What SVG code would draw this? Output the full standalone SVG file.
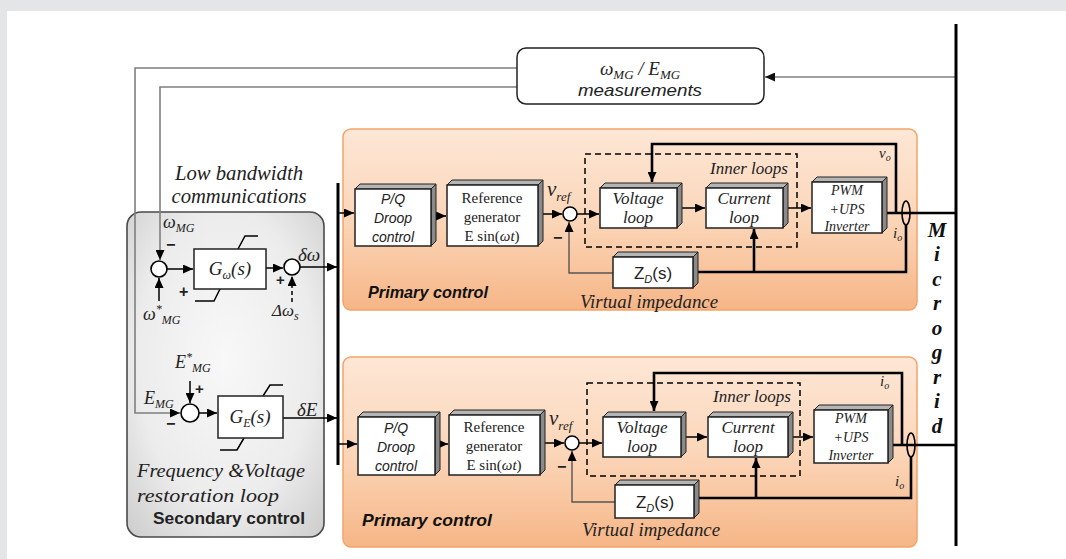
<svg xmlns="http://www.w3.org/2000/svg" width="1066" height="559" viewBox="0 0 1066 559">
<defs>
<style>
.ln{fill:none;stroke:#000;stroke-width:1.5}
.tk{fill:none;stroke:#000;stroke-width:2.6}
.gl{fill:none;stroke:#7f7f7f;stroke-width:1.6}
.sum{fill:#fff;stroke:#000;stroke-width:1.6}
.fr{fill:#fff;stroke:#222;stroke-width:1.5}
.tp{fill:#b5b5b5;stroke:#222;stroke-width:1}
.rt{fill:#8a8a8a;stroke:#222;stroke-width:1}
.ser{font-family:"Liberation Serif","Times New Roman",serif;fill:#222}
.it{font-family:"Liberation Serif","Times New Roman",serif;font-style:italic;fill:#222}
.sans{font-family:"Liberation Sans","Open Sans",sans-serif;fill:#222}
.pc{font-family:"Liberation Sans","Open Sans",sans-serif;font-weight:bold;font-style:italic;font-size:17px;fill:#111}
.mg{font-family:"Liberation Serif",serif;font-weight:bold;font-style:italic;font-size:21px;fill:#111;text-anchor:middle}
</style>
<marker id="ah" markerUnits="userSpaceOnUse" markerWidth="10" markerHeight="9" refX="10" refY="4.5" orient="auto">
<path d="M0,0 L10,4.5 L0,9 z" fill="#000"/>
</marker>
<marker id="ahg" markerUnits="userSpaceOnUse" markerWidth="10" markerHeight="9" refX="10" refY="4.5" orient="auto">
<path d="M0,0 L10,4.5 L0,9 z" fill="#111"/>
</marker>
<radialGradient id="secg" cx="0.5" cy="0.45" r="0.75">
<stop offset="0" stop-color="#f8f8f8"/>
<stop offset="0.6" stop-color="#ececec"/>
<stop offset="1" stop-color="#cbcbcb"/>
</radialGradient>
<linearGradient id="org" x1="0" y1="0" x2="0" y2="1">
<stop offset="0" stop-color="#fde7d6"/>
<stop offset="0.5" stop-color="#fbd6b9"/>
<stop offset="1" stop-color="#f6b687"/>
</linearGradient>
</defs>

<rect x="0" y="0" width="1066" height="559" fill="#e4e5e7"/>
<rect x="7" y="11" width="1059" height="548" fill="#fff"/>

<!-- containers -->
<g id="secondary">
<rect x="127" y="212" width="197" height="325" rx="14" fill="url(#secg)" stroke="#4a4a4a" stroke-width="1.6"/>
<text class="it" x="137" y="477" font-size="19" textLength="168" lengthAdjust="spacingAndGlyphs">Frequency &amp;Voltage</text>
<text class="it" x="137" y="502" font-size="19" textLength="142" lengthAdjust="spacingAndGlyphs">restoration loop</text>
<text class="sans" x="153" y="524" font-size="17" font-weight="bold" textLength="152" lengthAdjust="spacingAndGlyphs">Secondary control</text>
</g>
<g id="primary1">
<rect x="343" y="129" width="574" height="181" rx="8" fill="url(#org)" stroke="#f2a46b" stroke-width="1.5"/>
<text class="pc" x="368" y="298" textLength="120" lengthAdjust="spacingAndGlyphs">Primary control</text>
<text class="it" x="580" y="308" font-size="18" textLength="138" lengthAdjust="spacingAndGlyphs">Virtual impedance</text>
<rect x="585" y="154" width="212" height="93" fill="none" stroke="#000" stroke-width="1.5" stroke-dasharray="6,4"/>
<text class="it" x="710" y="174" font-size="17" textLength="78" lengthAdjust="spacingAndGlyphs">Inner loops</text>
</g>
<g id="primary2">
<rect x="343" y="357" width="574" height="190" rx="8" fill="url(#org)" stroke="#f2a46b" stroke-width="1.5"/>
<text class="pc" x="362" y="526" textLength="130" lengthAdjust="spacingAndGlyphs">Primary control</text>
<text class="it" x="582" y="536" font-size="18" textLength="138" lengthAdjust="spacingAndGlyphs">Virtual impedance</text>
<rect x="587" y="383" width="213" height="93" fill="none" stroke="#000" stroke-width="1.5" stroke-dasharray="6,4"/>
<text class="it" x="713" y="402" font-size="17" textLength="78" lengthAdjust="spacingAndGlyphs">Inner loops</text>
</g>

<!-- connectors -->
<g id="connectors">
<polyline class="gl" points="956,77 765,77" marker-end="url(#ahg)"/>
<polyline class="gl" points="517,68 135,68 135,413 180,413" marker-end="url(#ah)"/>
<polyline class="gl" points="517,87 160,87 160,260" marker-end="url(#ah)"/>
<line class="ln" x1="159" y1="301" x2="159" y2="278" marker-end="url(#ah)"/>
<line class="ln" x1="167" y1="269" x2="193" y2="269" marker-end="url(#ah)"/>
<line class="ln" x1="266" y1="268" x2="283" y2="268" marker-end="url(#ah)"/>
<line class="ln" x1="292" y1="302" x2="292" y2="276" stroke-dasharray="4,3" marker-end="url(#ah)"/>
<line class="ln" x1="300" y1="267" x2="337" y2="267" marker-end="url(#ah)"/>
<line class="ln" x1="190" y1="381" x2="190" y2="403" marker-end="url(#ah)"/>
<line class="ln" x1="199" y1="413" x2="217" y2="413" marker-end="url(#ah)"/>
<line class="ln" x1="283" y1="418" x2="337" y2="418" marker-end="url(#ah)"/>
<polyline class="ln" points="238,249 245,236 258,236" stroke-width="2.2"/>
<polyline class="ln" points="195,301 214,301 220,289" stroke-width="2.2"/>
<polyline class="ln" points="263,396 270,385 283,385" stroke-width="2.2"/>
<polyline class="ln" points="220,450 237,450 244,438" stroke-width="2.2"/>
<line x1="338" y1="183" x2="338" y2="465" stroke="#000" stroke-width="3"/>
<line x1="956" y1="24" x2="956" y2="546" stroke="#000" stroke-width="3"/>
<line class="ln" x1="338" y1="213" x2="354" y2="213" marker-end="url(#ah)"/>
<line class="ln" x1="436" y1="216" x2="446" y2="216" marker-end="url(#ah)"/>
<line class="ln" x1="543" y1="214" x2="562" y2="214" marker-end="url(#ah)"/>
<line class="ln" x1="577" y1="214" x2="599" y2="214" marker-end="url(#ah)"/>
<line class="ln" x1="682" y1="208" x2="705" y2="208" marker-end="url(#ah)"/>
<line class="ln" x1="788" y1="208" x2="811" y2="208" marker-end="url(#ah)"/>
<line class="tk" x1="887" y1="213" x2="956" y2="213"/>
<polyline class="tk" points="896,213 896,144 652,144 652,182" marker-end="url(#ah)"/>
<polyline class="tk" points="906,225 906,272 698,272"/>
<line class="tk" x1="754" y1="272" x2="754" y2="229" marker-end="url(#ah)"/>
<polyline points="613,273 569,273 569,222" fill="none" stroke="#555" stroke-width="1.4" marker-end="url(#ah)"/>
<ellipse cx="906" cy="213" rx="4" ry="12" fill="none" stroke="#000" stroke-width="1.6"/>
<line class="ln" x1="338" y1="444" x2="357" y2="444" marker-end="url(#ah)"/>
<line class="ln" x1="440" y1="444" x2="448" y2="444" marker-end="url(#ah)"/>
<line class="ln" x1="545" y1="443" x2="564" y2="443" marker-end="url(#ah)"/>
<line class="ln" x1="579" y1="443" x2="602" y2="443" marker-end="url(#ah)"/>
<line class="ln" x1="686" y1="437" x2="707" y2="437" marker-end="url(#ah)"/>
<line class="ln" x1="793" y1="437" x2="813" y2="437" marker-end="url(#ah)"/>
<line class="tk" x1="893" y1="445" x2="956" y2="445"/>
<polyline class="tk" points="902,445 902,373 654,373 654,411" marker-end="url(#ah)"/>
<polyline class="tk" points="911,457 911,498 699,498"/>
<line class="tk" x1="756" y1="498" x2="756" y2="458" marker-end="url(#ah)"/>
<polyline points="615,502 572,502 572,451" fill="none" stroke="#555" stroke-width="1.4" marker-end="url(#ah)"/>
<ellipse cx="911" cy="445" rx="4" ry="12" fill="none" stroke="#000" stroke-width="1.6"/>
</g>

<!-- nodes -->
<g id="measurements">
<rect x="517" y="48" width="247" height="56" rx="9" fill="#fff" stroke="#222" stroke-width="1.5"/>
<text class="it" x="640" y="75" font-size="19" text-anchor="middle">ω<tspan font-size="13" dy="4">MG</tspan><tspan dy="-4"> / E</tspan><tspan font-size="13" dy="4">MG</tspan></text>
<text class="sans" x="640" y="96" font-size="17" font-style="italic" text-anchor="middle" textLength="124" lengthAdjust="spacingAndGlyphs">measurements</text>
</g>
<g id="lowbw">
<text class="it" x="239" y="180" font-size="20" text-anchor="middle" textLength="128" lengthAdjust="spacingAndGlyphs">Low bandwidth</text>
<text class="it" x="239" y="203" font-size="20" text-anchor="middle" textLength="135" lengthAdjust="spacingAndGlyphs">communications</text>
</g>
<g id="sum-omega">
<circle class="sum" cx="159" cy="269" r="8"/>
<text class="it" x="163" y="228" font-size="18">ω<tspan font-size="12" dy="4">MG</tspan></text>
<text class="sans" x="166" y="250" font-size="16" font-weight="bold">−</text>
<text class="sans" x="179" y="297" font-size="16" font-weight="bold">+</text>
<text class="it" x="143" y="320" font-size="18">ω<tspan font-size="12" dy="-7">*</tspan><tspan font-size="12" dy="11">MG</tspan></text>
</g>
<g id="G-omega">
<rect x="194" y="249" width="72" height="40" fill="#fff" stroke="#222" stroke-width="1.5"/>
<text class="it" x="230" y="275" font-size="19" text-anchor="middle">G<tspan font-size="12" dy="4">ω</tspan><tspan dy="-4">(s)</tspan></text>
</g>
<g id="sum-delta-omega">
<circle class="sum" cx="292" cy="267" r="8"/>
<text class="it" x="298" y="261" font-size="19">δω</text>
<text class="sans" x="276" y="285" font-size="15" font-weight="bold">+</text>
<text class="it" x="272" y="316" font-size="17">Δω<tspan font-size="12" dy="4">s</tspan></text>
</g>
<g id="sum-E">
<circle class="sum" cx="190" cy="413" r="9"/>
<text class="it" x="175" y="368" font-size="18">E<tspan font-size="12" dy="-7">*</tspan><tspan font-size="12" dy="11">MG</tspan></text>
<text class="sans" x="195" y="394" font-size="15" font-weight="bold">+</text>
<text class="it" x="144" y="404" font-size="18">E<tspan font-size="12" dy="4">MG</tspan></text>
<text class="sans" x="166" y="429" font-size="16" font-weight="bold">−</text>
</g>
<g id="G-E">
<rect x="218" y="396" width="65" height="42" fill="#fff" stroke="#222" stroke-width="1.5"/>
<text class="it" x="250" y="423" font-size="19" text-anchor="middle">G<tspan font-size="12" dy="4">E</tspan><tspan dy="-4">(s)</tspan></text>
<text class="it" x="297" y="416" font-size="19">δE</text>
</g>

<g id="pq1">
<polygon class="tp" points="355,189 360,184 436,184 431,189"/>
<polygon class="rt" points="431,189 436,184 436,241 431,246"/>
<rect class="fr" x="355" y="189" width="76" height="57"/>
<text class="sans" x="393" y="204" font-size="14" font-style="italic" text-anchor="middle">P/Q</text>
<text class="sans" x="393" y="223" font-size="14" font-style="italic" text-anchor="middle">Droop</text>
<text class="sans" x="393" y="242" font-size="14" font-style="italic" text-anchor="middle">control</text>
</g>
<g id="ref1">
<polygon class="tp" points="447,185 452,180 543,180 538,185"/>
<polygon class="rt" points="538,185 543,180 543,241 538,246"/>
<rect class="fr" x="447" y="185" width="91" height="61"/>
<text class="ser" x="492" y="203" font-size="15" text-anchor="middle">Reference</text>
<text class="ser" x="492" y="222" font-size="15" text-anchor="middle">generator</text>
<text class="ser" x="492" y="241" font-size="15" text-anchor="middle">E sin(<tspan font-style="italic">ωt</tspan>)</text>
</g>
<g id="sum-v1">
<circle class="sum" cx="570" cy="214" r="7"/>
<text class="it" x="547" y="196" font-size="21">v<tspan font-size="13" dy="5">ref</tspan></text>
<text class="sans" x="553" y="243" font-size="16" font-weight="bold">−</text>
</g>
<g id="vloop1">
<polygon class="tp" points="600,188 605,183 682,183 677,188"/>
<polygon class="rt" points="677,188 682,183 682,223 677,228"/>
<rect class="fr" x="600" y="188" width="77" height="40"/>
<text class="it" x="638" y="204" font-size="17" text-anchor="middle">Voltage</text>
<text class="it" x="638" y="223" font-size="17" text-anchor="middle">loop</text>
</g>
<g id="cloop1">
<polygon class="tp" points="706,188 711,183 788,183 783,188"/>
<polygon class="rt" points="783,188 788,183 788,223 783,228"/>
<rect class="fr" x="706" y="188" width="77" height="40"/>
<text class="it" x="744" y="204" font-size="17" text-anchor="middle">Current</text>
<text class="it" x="744" y="223" font-size="17" text-anchor="middle">loop</text>
</g>
<g id="pwm1">
<polygon class="tp" points="812,182 817,177 887,177 882,182"/>
<polygon class="rt" points="882,182 887,177 887,228 882,233"/>
<rect class="fr" x="812" y="182" width="70" height="51"/>
<text class="it" x="847" y="195" font-size="14" text-anchor="middle">PWM</text>
<text class="it" x="847" y="214" font-size="14" text-anchor="middle">+UPS</text>
<text class="it" x="847" y="231" font-size="14" text-anchor="middle">Inverter</text>
<text class="it" x="879" y="158" font-size="15">v<tspan font-size="10" dy="3">o</tspan></text>
<text class="it" x="893" y="238" font-size="15">i<tspan font-size="10" dy="3">o</tspan></text>
</g>
<g id="zd1">
<polygon class="tp" points="613,257 618,252 698,252 693,257"/>
<polygon class="rt" points="693,257 698,252 698,283 693,288"/>
<rect class="fr" x="613" y="257" width="80" height="31"/>
<text class="sans" x="653" y="279" font-size="17" text-anchor="middle">Z<tspan font-size="11" dy="4" font-style="italic">D</tspan><tspan dy="-4">(s)</tspan></text>
</g>

<g id="pq2">
<polygon class="tp" points="358,417 363,412 440,412 435,417"/>
<polygon class="rt" points="435,417 440,412 440,470 435,475"/>
<rect class="fr" x="358" y="417" width="77" height="58"/>
<text class="sans" x="396" y="433" font-size="14" font-style="italic" text-anchor="middle">P/Q</text>
<text class="sans" x="396" y="452" font-size="14" font-style="italic" text-anchor="middle">Droop</text>
<text class="sans" x="396" y="471" font-size="14" font-style="italic" text-anchor="middle">control</text>
</g>
<g id="ref2">
<polygon class="tp" points="449,415 454,410 545,410 540,415"/>
<polygon class="rt" points="540,415 545,410 545,470 540,475"/>
<rect class="fr" x="449" y="415" width="91" height="60"/>
<text class="ser" x="494" y="432" font-size="15" text-anchor="middle">Reference</text>
<text class="ser" x="494" y="451" font-size="15" text-anchor="middle">generator</text>
<text class="ser" x="494" y="470" font-size="15" text-anchor="middle">E sin(<tspan font-style="italic">ωt</tspan>)</text>
</g>
<g id="sum-v2">
<circle class="sum" cx="572" cy="443" r="7"/>
<text class="it" x="549" y="425" font-size="21">v<tspan font-size="13" dy="5">ref</tspan></text>
<text class="sans" x="557" y="472" font-size="16" font-weight="bold">−</text>
</g>
<g id="vloop2">
<polygon class="tp" points="603,417 608,412 686,412 681,417"/>
<polygon class="rt" points="681,417 686,412 686,452 681,457"/>
<rect class="fr" x="603" y="417" width="78" height="40"/>
<text class="it" x="642" y="433" font-size="17" text-anchor="middle">Voltage</text>
<text class="it" x="642" y="452" font-size="17" text-anchor="middle">loop</text>
</g>
<g id="cloop2">
<polygon class="tp" points="708,417 713,412 793,412 788,417"/>
<polygon class="rt" points="788,417 793,412 793,452 788,457"/>
<rect class="fr" x="708" y="417" width="80" height="40"/>
<text class="it" x="748" y="433" font-size="17" text-anchor="middle">Current</text>
<text class="it" x="748" y="452" font-size="17" text-anchor="middle">loop</text>
</g>
<g id="pwm2">
<polygon class="tp" points="814,410 819,405 893,405 888,410"/>
<polygon class="rt" points="888,410 893,405 893,458 888,463"/>
<rect class="fr" x="814" y="410" width="74" height="53"/>
<text class="it" x="851" y="423" font-size="14" text-anchor="middle">PWM</text>
<text class="it" x="851" y="442" font-size="14" text-anchor="middle">+UPS</text>
<text class="it" x="851" y="460" font-size="14" text-anchor="middle">Inverter</text>
<text class="it" x="880" y="386" font-size="15">i<tspan font-size="10" dy="3">o</tspan></text>
<text class="it" x="895" y="486" font-size="15">i<tspan font-size="10" dy="3">o</tspan></text>
</g>
<g id="zd2">
<polygon class="tp" points="615,485 620,480 699,480 694,485"/>
<polygon class="rt" points="694,485 699,480 699,513 694,518"/>
<rect class="fr" x="615" y="485" width="79" height="33"/>
<text class="sans" x="655" y="508" font-size="17" text-anchor="middle">Z<tspan font-size="11" dy="4" font-style="italic">D</tspan><tspan dy="-4">(s)</tspan></text>
</g>

<g id="microgrid">
<text class="mg" x="937" y="237">M</text>
<text class="mg" x="937" y="261">i</text>
<text class="mg" x="937" y="286">c</text>
<text class="mg" x="937" y="310">r</text>
<text class="mg" x="937" y="335">o</text>
<text class="mg" x="937" y="359">g</text>
<text class="mg" x="937" y="384">r</text>
<text class="mg" x="937" y="408">i</text>
<text class="mg" x="937" y="433">d</text>
</g>
</svg>
